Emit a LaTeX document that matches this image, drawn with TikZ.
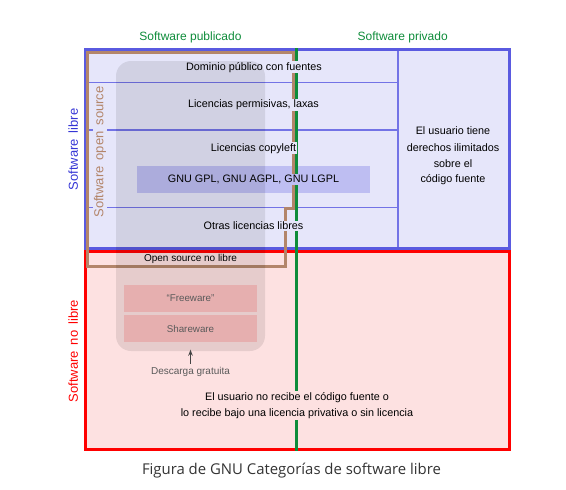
\documentclass[tikz,border=0pt]{standalone}
\usepackage{fontspec}
\setmainfont{Liberation Sans}
\newfontfamily\captionfont{Open Sans}
\usetikzlibrary{arrows.meta,positioning}
\definecolor{libreblue}{HTML}{5A5AE0}
\definecolor{libretext}{HTML}{3535D5}
\definecolor{librefill}{HTML}{E6E6FA}
\definecolor{sepblue}{HTML}{7373E6}
\definecolor{gnufill}{HTML}{BEBEF2}
\definecolor{nolibrefill}{HTML}{FDE1E1}
\definecolor{pubgreen}{HTML}{0E8C3A}
\definecolor{osbrown}{HTML}{B3856A}
\definecolor{freefill}{HTML}{E6AFAF}
\definecolor{freetext}{HTML}{5A5A5A}
\definecolor{arrowgray}{HTML}{444444}
\definecolor{captiongray}{HTML}{333333}
\newcommand\widegap{\spaceskip 6pt plus 1pt\relax}
\tikzset{
    rowtext/.style={fill=librefill,inner sep=1pt,font=\fontsize{10.8}{13}\selectfont},
    sidelabel/.style={rotate=90,inner sep=1pt,font=\fontsize{13}{15}\selectfont\widegap},
    toplabel/.style={text=pubgreen,font=\fontsize{12}{14}\selectfont},
    freebox/.style={fill=freefill,minimum width=133pt,minimum height=27pt,inner sep=0pt,text=freetext,font=\fontsize{9.8}{12}\selectfont},
}

\begin{document}
\begin{tikzpicture}[x=1pt,y=-1pt]
    \useasboundingbox (0,0) rectangle (566,490);
    \fill[librefill] (85,49) rectangle (509,248);
    \fill[nolibrefill] (85,251) rectangle (509,449.5);
    \node[fill=gnufill,minimum width=233pt,minimum height=27pt,inner sep=0pt] (gnubox) at (253.5,179.5) {};
    \foreach \y in {82.5,130,207.5}
        \draw[sepblue,line width=1.2pt] (86,\y) -- (396.5,\y);
    \draw[sepblue,line width=2pt] (397.5,49) -- (397.5,248);
    \draw[libreblue,line width=3pt] (85,49) rectangle (509,248);
    \draw[red,line width=3pt] (85,251) rectangle (509,449.5);
    \draw[osbrown,line width=3pt] (87.5,52.5) -- (293.7,52.5) -- (293.7,208.3) -- (285,208.3) -- (285,266.7) -- (87.5,266.7) -- cycle;
    \draw[pubgreen,line width=3pt] (296.7,48) -- (296.7,450.5);

    \node[rowtext] (dominio) at (254,67.3) {Dominio público con fuentes};
    \node[rowtext] (permisivas) at (253.5,105) {Licencias permisivas, laxas};
    \node[rowtext] (copyleft) at (253.5,148.3) {Licencias copyleft};
    \node[rowtext,fill=gnufill] (gnu) at (gnubox) {GNU GPL, GNU AGPL, GNU LGPL};
    \node[rowtext] (otras) at (253.5,226) {Otras licencias libres};
    \node[rowtext,align=center,font=\fontsize{10.8}{16.6}\selectfont] (ilimitados) at (453,155.5) {El usuario tiene\\derechos ilimitados\\sobre el\\[-2.3pt]código fuente};
    \node[rowtext,fill=nolibrefill,align=center,font=\fontsize{10.8}{16.7}\selectfont] (norecibe) at (297,405.7) {El usuario no recibe el código fuente o\\lo recibe bajo una licencia privativa o sin licencia};

    \node[sidelabel,text=libretext] (libre) at (73.3,149.5) {Software libre};
    \node[sidelabel,text=red] (nolibre) at (73.3,351.3) {Software no libre};
    \node[sidelabel,text=osbrown,fill=librefill] (opensource) at (100,152) {Software open source};
    \node[toplabel] (publicado) at (190.5,37.3) {Software publicado};
    \node[toplabel] (privado) at (402.7,37.3) {Software privado};

    \node[fill=black,fill opacity=0.09,rounded corners=15pt,minimum width=149pt,minimum height=290pt,inner sep=0pt] (gratis) at (190.5,206) {};
    \node[font=\fontsize{10}{12}\selectfont] (osnolibre) at (190.5,259) {Open source no libre};
    \node[freebox] (freeware) at (190.5,298.5) {“Freeware”};
    \node[freebox] (shareware) at (190.5,328.5) {Shareware};
    \node[text=freetext,font=\fontsize{10}{12}\selectfont] (descarga) at (190.5,371.7) {Descarga gratuita};
    \draw[-{Stealth[length=6pt,width=4.5pt]},arrowgray,line width=1pt] (descarga.north) -- ([yshift=1.5pt]gratis.south);

    \node[anchor=base,text=captiongray,font=\captionfont\fontsize{14.9}{17}\selectfont] (caption) at (291.5,474.5) {Figura de GNU Categorías de software libre};
\end{tikzpicture}
\end{document}
